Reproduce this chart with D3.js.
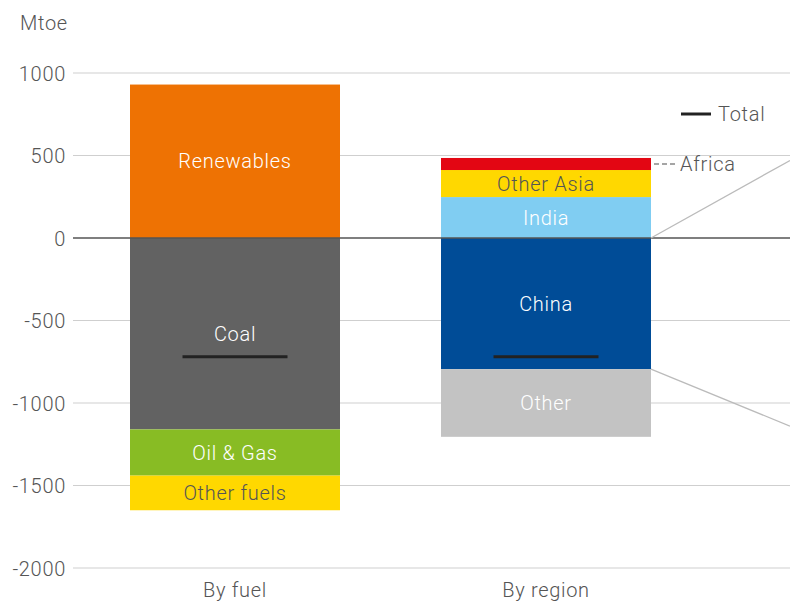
<!DOCTYPE html>
<html><head><meta charset="utf-8">
<script src="https://cdn.jsdelivr.net/npm/d3@7"></script>
<style>body{margin:0;background:#fff}text{font-family:Roboto,"Liberation Sans",sans-serif;font-weight:300;letter-spacing:0.7px}</style>
</head><body>
<svg id="c" width="790" height="601"></svg>
<script>
const categories = ["By fuel", "By region"];
const fuelNames = ["Renewables", "Coal", "Oil & Gas", "Other fuels"];
const fuelValues = [930, -1160, -280, -210];
const regionNames = ["India", "Other Asia", "Africa", "China", "Other"];
const regionValues = [248, 164, 73, -795, -410];
const totals = [-720, -720];
const yTicks = [1000, 500, 0, -500, -1000, -1500, -2000];

const colors = {"Renewables":"#EE7203","Coal":"#626262","Oil & Gas":"#88BC24","Other fuels":"#FFD800",
  "India":"#80CDF2","Other Asia":"#FFD800","Africa":"#E30613","China":"#004C97","Other":"#C3C3C3"};
const textColors = {"Other fuels":"#555","Other Asia":"#555"};
const FS = 20;

const svg = d3.select("#c");
const y = d3.scaleLinear().domain([-2000, 1000]).range([568, 73]);
const x = d3.scaleBand().domain(categories).range([130, 651]).paddingInner(0.3248).paddingOuter(0);

// grid
svg.append("g").selectAll("line").data(yTicks.filter(d=>d!==0)).join("line")
  .attr("x1",73).attr("x2",790).attr("y1",d=>y(d)).attr("y2",d=>y(d))
  .attr("stroke","#cfcfcf").attr("stroke-width",1);
const yAxis = d3.axisLeft(y).tickValues(yTicks).tickSize(0).tickPadding(0).tickFormat(d=>String(d));
const ga = svg.append("g").attr("transform","translate(66,0)").call(yAxis);
ga.select(".domain").remove();
ga.selectAll("text").attr("font-size",FS).attr("fill","#555").style("font-family","Roboto,sans-serif").style("font-weight",300).attr("dy","0.35em");
svg.append("text").attr("x",20).attr("y",30).attr("font-size",FS).attr("fill","#555").text("Mtoe");

function stack(names, values){
  let pos=0, neg=0;
  return names.map((n,i)=>{const v=values[i]; let y0,y1; if(v>=0){y0=pos;y1=pos+v;pos=y1;}else{y0=neg;y1=neg+v;neg=y1;} return {name:n,y0,y1};});
}
const groups = [stack(fuelNames,fuelValues), stack(regionNames,regionValues)];
groups.forEach((segs,gi)=>{
  const cx = x(categories[gi]);
  const g = svg.append("g");
  g.selectAll("rect").data(segs).join("rect")
    .attr("x",cx).attr("width",x.bandwidth())
    .attr("y",d=>y(Math.max(d.y0,d.y1))).attr("height",d=>Math.abs(y(d.y0)-y(d.y1)))
    .attr("fill",d=>colors[d.name]);
  g.selectAll("text").data(segs.filter(d=>d.name!=="Africa")).join("text")
    .attr("x",cx+x.bandwidth()/2)
    .attr("y",d=>{ if(d.name==="Coal") return y(-580); if(d.name==="China") return y(-400); return y((d.y0+d.y1)/2);})
    .attr("dy","0.35em").attr("text-anchor","middle").attr("font-size",FS)
    .attr("fill",d=>textColors[d.name]||"#fff").text(d=>d.name);
  g.append("line").attr("x1",cx+x.bandwidth()*0.25).attr("x2",cx+x.bandwidth()*0.75)
    .attr("y1",y(totals[gi])).attr("y2",y(totals[gi])).attr("stroke","#222").attr("stroke-width",3);
});

// zero line
svg.append("line").attr("x1",73).attr("x2",790).attr("y1",y(0)).attr("y2",y(0)).attr("stroke","#555").attr("stroke-width",1.5);

// connector lines
const rx = x("By region")+x.bandwidth();
svg.append("line").attr("x1",rx).attr("y1",y(0)).attr("x2",790).attr("y2",y(470)).attr("stroke","#bbb").attr("stroke-width",1.3);
svg.append("line").attr("x1",rx).attr("y1",y(-795)).attr("x2",790).attr("y2",y(-1140)).attr("stroke","#bbb").attr("stroke-width",1.3);

// Africa label
const afY = y(248+164+73/2);
svg.append("line").attr("x1",rx+3).attr("x2",rx+25).attr("y1",afY).attr("y2",afY).attr("stroke","#888").attr("stroke-width",1.3).attr("stroke-dasharray","5,3");
svg.append("text").attr("x",rx+29).attr("y",afY).attr("dy","0.35em").attr("font-size",FS).attr("fill","#555").text("Africa");

// legend
svg.append("line").attr("x1",681).attr("x2",711).attr("y1",114).attr("y2",114).attr("stroke","#222").attr("stroke-width",3);
svg.append("text").attr("x",718).attr("y",114).attr("dy","0.35em").attr("font-size",FS).attr("fill","#555").text("Total");

// category labels
svg.append("g").selectAll("text").data(categories).join("text")
  .attr("x",d=>x(d)+x.bandwidth()/2).attr("y",597).attr("text-anchor","middle").attr("font-size",FS).attr("fill","#555").text(d=>d);
</script>
</body></html>
